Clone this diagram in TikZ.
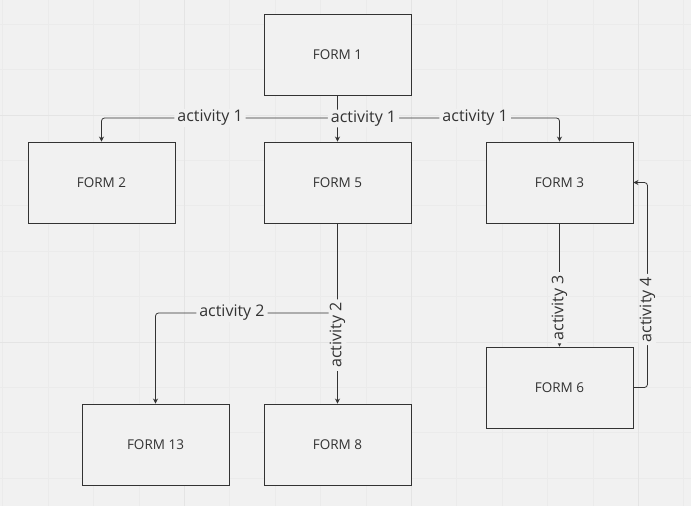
\documentclass[tikz,border=0pt]{standalone}
\usepackage{fontspec}
\setmainfont{Open Sans}
\usetikzlibrary{positioning,arrows.meta}
\definecolor{bgcolor}{RGB}{241,241,241}
\definecolor{gridcolor}{RGB}{235,235,235}
\definecolor{majorcolor}{RGB}{228,228,228}
\definecolor{inkcolor}{RGB}{51,51,51}
\tikzset{
  form/.style={draw=inkcolor, fill=bgcolor, line width=0.9pt, minimum width=147pt,
    minimum height=81pt, inner sep=0pt, text=inkcolor, font=\fontsize{13.5}{16}\selectfont},
  conn/.style={draw=inkcolor, line width=0.8pt, rounded corners=3pt,
    -{Stealth[length=5pt,width=5pt]}},
  lbl/.style={fill=bgcolor, text=inkcolor, inner xsep=3pt, inner ysep=1pt,
    font=\fontsize{16}{18}\selectfont}
}

\begin{document}
\begin{tikzpicture}[x=1pt, y=-1pt]
  % canvas and grid
  \fill[bgcolor] (0,0) rectangle (691,506);
  \useasboundingbox (0,0) rectangle (691,506);
  \foreach \k in {0,...,15}
    \draw[gridcolor, line width=0.6pt] ({2.7+45.4*\k},0) -- ++(0,506);
  \foreach \k in {0,...,10}
    \draw[gridcolor, line width=0.6pt] (0,{24+45.4*\k}) -- ++(691,0);
  \foreach \x in {184.3,411.3,638.3}
    \draw[majorcolor, line width=0.8pt] (\x,0) -- ++(0,506);
  \foreach \y in {115,342}
    \draw[majorcolor, line width=0.8pt] (0,\y) -- ++(691,0);

  % forms
  \node[form] (f1) at (337.5,54.5) {FORM 1};
  \node[form] (f2) at (101.5,182.5) {FORM 2};
  \node[form] (f5) at (337.5,182.5) {FORM 5};
  \node[form] (f3) at (559.5,182.5) {FORM 3};
  \node[form] (f6) at (559.5,387.5) {FORM 6};
  \node[form] (f13) at (155.5,444.5) {FORM 13};
  \node[form] (f8) at (337.5,444.5) {FORM 8};

  % activities
  \coordinate (j1) at (337.5,118);
  \coordinate (j2) at (337.5,313);
  \draw[conn] (f1.south) -- (j1) -| node[lbl, pos=0.27] {activity 1} (f2.north);
  \draw[conn] (f1.south) -- (j1) -| node[lbl, pos=0.31] {activity 1} (f3.north);
  \draw[conn] (f1.south) -- node[lbl, xshift=26pt] {activity 1} (f5.north);
  \draw[conn] (f5.south) -- (j2) -| node[lbl, pos=0.29] {activity 2} (f13.north);
  \draw[conn] (f5.south) -- node[lbl, rotate=90, pos=0.62] {activity 2} (f8.north);
  \draw[conn] (f3.south) -- node[lbl, rotate=90, pos=0.685] {activity 3} (f6.north);
  \draw[conn] (f6.east) -- ++(14,0) |- node[lbl, rotate=90, pos=0.19] {activity 4} (f3.east);
\end{tikzpicture}
\end{document}
